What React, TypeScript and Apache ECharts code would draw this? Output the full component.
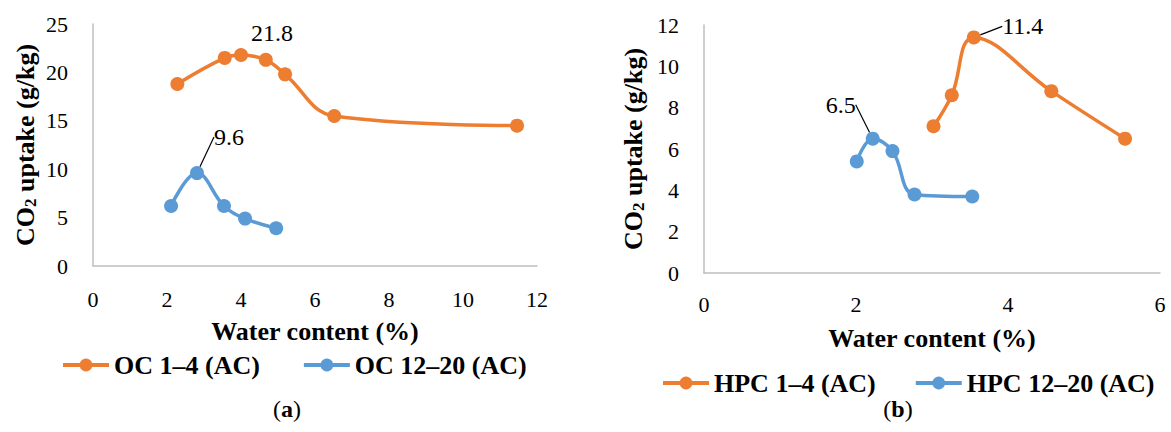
import React, { useEffect, useRef } from "react";
import * as echarts from "echarts";

// ---- data (a) ----
const ocNames = ["OC 1–4 (AC)", "OC 12–20 (AC)"];
const oc14Water = [2.28, 3.56, 4.0, 4.67, 5.19, 6.52, 11.46];
const oc14Uptake = [18.8, 21.5, 21.8, 21.3, 19.8, 15.5, 14.5];
const oc1220Water = [2.11, 2.81, 3.54, 4.11, 4.95];
const oc1220Uptake = [6.2, 9.6, 6.2, 4.9, 3.9];

// ---- data (b) ----
const hpcNames = ["HPC 1–4 (AC)", "HPC 12–20 (AC)"];
const hpc14Water = [3.02, 3.26, 3.55, 4.57, 5.54];
const hpc14Uptake = [7.1, 8.6, 11.4, 8.8, 6.5];
const hpc1220Water = [2.01, 2.22, 2.48, 2.77, 3.53];
const hpc1220Uptake = [5.4, 6.5, 5.9, 3.8, 3.7];

// peak labels: index of labelled point in each series
const peakIndex = { oc14: 2, oc1220: 1, hpc14: 2, hpc1220: 1 };

const FONT = '"Liberation Serif", "Times New Roman", serif';
const ORANGE = "#ED7D31";
const BLUE = "#5B9BD5";
const AXIS_GRAY = "#BFBFBF";

function makeSeries(
  name: string,
  xs: number[],
  ys: number[],
  color: string,
  axisIdx: number,
  peak: number,
  dx: number,
  dy: number,
  leader: boolean
) {
  return {
    type: "line",
    name,
    xAxisIndex: axisIdx,
    yAxisIndex: axisIdx,
    smooth: 0.4,
    symbol: "circle",
    symbolSize: 14,
    lineStyle: { color, width: 3.5 },
    itemStyle: { color },
    emphasis: { disabled: true },
    label: {
      show: false,
      fontFamily: FONT,
      fontSize: 24,
      color: "#000",
    },
    labelLine: { show: false, lineStyle: { color: "#000", width: 1.2 } },
    data: xs.map((x, i) =>
      i === peak
        ? {
            value: [x, ys[i]],
            label: { show: true, formatter: String(ys[i]) },
            labelLine: { show: leader, lineStyle: { color: "#000", width: 1.2 } },
          }
        : [x, ys[i]]
    ),
    labelLayout: (p: any) =>
      p.dataIndex === peak
        ? {
            x: p.rect.x + p.rect.width / 2 + dx,
            y: p.rect.y + p.rect.height / 2 + dy,
            align: "center",
            verticalAlign: "middle",
          }
        : {},
  };
}

function yAxis(gridIndex: number, max: number, interval: number, nameGap: number) {
  return {
    type: "value",
    gridIndex,
    min: 0,
    max,
    interval,
    name: "CO{sub|2} uptake (g/kg)",
    nameLocation: "middle",
    nameGap,
    nameTextStyle: {
      fontFamily: FONT,
      fontSize: 26,
      fontWeight: "bold",
      color: "#000",
      rich: {
        sub: { fontFamily: FONT, fontSize: 17, fontWeight: "bold", color: "#000", verticalAlign: "bottom", padding: [10, 0, 0, 0] },
      },
    },
    axisLine: { show: true, lineStyle: { color: AXIS_GRAY, width: 1.5 } },
    axisTick: { show: false },
    splitLine: { show: false },
    axisLabel: { fontFamily: FONT, fontSize: 22, color: "#000", margin: 25 },
  };
}

function xAxis(gridIndex: number, max: number, interval: number, nameGap: number, margin: number) {
  return {
    type: "value",
    gridIndex,
    min: 0,
    max,
    interval,
    name: "Water content (%)",
    nameLocation: "middle",
    nameGap,
    nameTextStyle: { fontFamily: FONT, fontSize: 26, fontWeight: "bold", color: "#000" },
    axisLine: { show: true, lineStyle: { color: AXIS_GRAY, width: 1.5 } },
    axisTick: { show: false },
    splitLine: { show: false },
    axisLabel: { fontFamily: FONT, fontSize: 22, color: "#000", margin },
  };
}

function legend(names: string[], left: number, top: number, gap: number) {
  return {
    data: names,
    left,
    top,
    width: 600,
    orient: "horizontal",
    itemWidth: 46,
    itemHeight: 16,
    itemGap: gap,
    lineStyle: { width: 4 },
    textStyle: { fontFamily: FONT, fontSize: 26, fontWeight: "bold", color: "#000" },
  };
}

export default function App() {
  const ref = useRef<HTMLDivElement>(null);
  useEffect(() => {
    const chart = echarts.init(ref.current!, null, { renderer: "svg" });
    chart.setOption({
      animation: false,
      backgroundColor: "#fff",
      grid: [
        { left: 93, top: 24, width: 444, height: 242 },
        { left: 704, top: 25, width: 456, height: 248 },
      ],
      xAxis: [xAxis(0, 12, 2, 52, 22), xAxis(1, 6, 2, 52, 20)],
      yAxis: [yAxis(0, 25, 5, 54), yAxis(1, 12, 2, 57)],
      legend: [legend(ocNames, 56, 347, 42), legend(hpcNames, 656, 365, 38)],
      graphic: [
        {
          type: "text",
          x: 287,
          y: 409,
          style: {
            text: "({b|a})",
            font: `24px ${FONT}`,
            fill: "#000",
            align: "center",
            verticalAlign: "middle",
            rich: { b: { fontFamily: FONT, fontSize: 24, fontWeight: "bold", fill: "#000" } },
          },
        },
        {
          type: "text",
          x: 898,
          y: 409,
          style: {
            text: "({b|b})",
            font: `24px ${FONT}`,
            fill: "#000",
            align: "center",
            verticalAlign: "middle",
            rich: { b: { fontFamily: FONT, fontSize: 24, fontWeight: "bold", fill: "#000" } },
          },
        },
      ],
      series: [
        makeSeries(ocNames[0], oc14Water, oc14Uptake, ORANGE, 0, peakIndex.oc14, 31, -22, false),
        makeSeries(ocNames[1], oc1220Water, oc1220Uptake, BLUE, 0, peakIndex.oc1220, 32, -36, true),
        makeSeries(hpcNames[0], hpc14Water, hpc14Uptake, ORANGE, 1, peakIndex.hpc14, 49, -11, true),
        makeSeries(hpcNames[1], hpc1220Water, hpc1220Uptake, BLUE, 1, peakIndex.hpc1220, -32, -34, true),
      ],
    });
    return () => chart.dispose();
  }, []);
  return (
    <div
      ref={ref}
      style={{ position: "fixed", left: 0, top: 0, width: 1171, height: 432, background: "#fff" }}
    />
  );
}
